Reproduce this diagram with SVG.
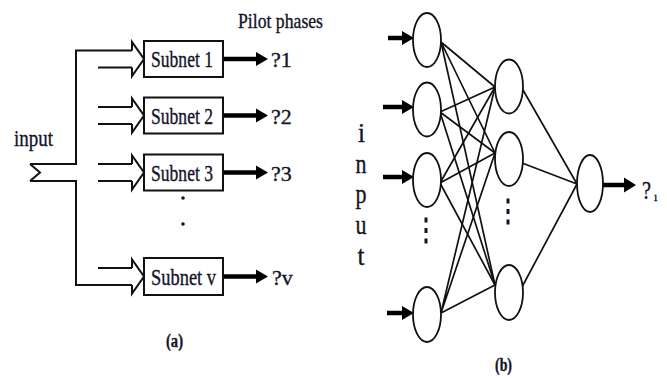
<svg xmlns="http://www.w3.org/2000/svg" width="667" height="378" viewBox="0 0 667 378">
<style>
.ln{fill:none;stroke:#111;stroke-width:2;stroke-linejoin:miter}
.box{fill:#fff;stroke:#111;stroke-width:2}
.thk{fill:none;stroke:#000;stroke-width:4.5}
.hd{fill:#000;stroke:none}
.cn{fill:none;stroke:#111;stroke-width:1.7}
.nd{fill:#fff;stroke:#111;stroke-width:1.8}
.t{font-family:"Liberation Serif","Times New Roman",serif;fill:#141428;stroke:#141428;stroke-width:0.35}
.dot{fill:#141428}
</style>
<rect width="667" height="378" fill="#fff"/>
<!-- (a) -->
<text class="t" x="238" y="28" font-size="22" textLength="85" lengthAdjust="spacingAndGlyphs">Pilot phases</text>
<text class="t" x="14" y="146" font-size="24" textLength="39" lengthAdjust="spacingAndGlyphs">input</text>
<g id="connectors-a">
  <path class="ln" d="M30,164 L40,172.5 L30,181"/>
  <path class="ln" d="M30,164 H76 V50.5 H132"/>
  <path class="ln" d="M30,181 H76 V285 H132"/>
  <path class="ln" d="M98,67.5 H132"/>
  <path class="ln" d="M98,107 H132 M98,124 H132"/>
  <path class="ln" d="M98,164 H132 M98,181 H132"/>
  <path class="ln" d="M98,268 H132"/>
  <path class="ln" d="M132,50.5 V42 L144,59 L132,76 V67.5"/>
  <path class="ln" d="M132,107 V98.5 L144,115.5 L132,132.5 V124"/>
  <path class="ln" d="M132,164 V155.5 L144,172.5 L132,189.5 V181"/>
  <path class="ln" d="M132,268 V259.5 L144,276.5 L132,293.5 V285"/>
  <path class="thk" d="M223,59 H258 M223,115.5 H258 M223,172.5 H258 M223,276.5 H258"/>
  <path class="hd" d="M256,52 L268,59 L256,66 Z M256,108.5 L268,115.5 L256,122.5 Z M256,165.5 L268,172.5 L256,179.5 Z M256,269.5 L268,276.5 L256,283.5 Z"/>
</g>
<g id="subnet1"><rect class="box" x="144" y="41" width="79" height="36"/><text class="t" x="151" y="67" font-size="23" textLength="62" lengthAdjust="spacingAndGlyphs">Subnet 1</text></g>
<g id="subnet2"><rect class="box" x="144" y="97.5" width="79" height="36"/><text class="t" x="151" y="123.5" font-size="23" textLength="62" lengthAdjust="spacingAndGlyphs">Subnet 2</text></g>
<g id="subnet3"><rect class="box" x="144" y="154.5" width="79" height="36"/><text class="t" x="151" y="180.5" font-size="23" textLength="62" lengthAdjust="spacingAndGlyphs">Subnet 3</text></g>
<g id="subnetv"><rect class="box" x="144" y="258" width="79" height="37"/><text class="t" x="151" y="285" font-size="23" textLength="65" lengthAdjust="spacingAndGlyphs">Subnet v</text></g>
<g id="out1"><text class="t" x="271" y="67" font-size="22">?1</text></g>
<g id="out2"><text class="t" x="271" y="123.5" font-size="22">?2</text></g>
<g id="out3"><text class="t" x="271" y="180.5" font-size="22">?3</text></g>
<g id="outv"><text class="t" x="272" y="284.5" font-size="22">?v</text></g>
<circle class="dot" cx="183" cy="198" r="1.8"/>
<circle class="dot" cx="183" cy="224" r="1.8"/>
<text class="t" x="174.5" y="347" font-size="18" font-weight="bold" text-anchor="middle" textLength="17" lengthAdjust="spacingAndGlyphs">(a)</text>
<!-- (b) -->
<g id="input-label">
  <text class="t" x="358" y="142" font-size="27" textLength="7" lengthAdjust="spacingAndGlyphs">i</text>
  <text class="t" x="355.5" y="173" font-size="27" textLength="11" lengthAdjust="spacingAndGlyphs">n</text>
  <text class="t" x="355.5" y="203" font-size="27" textLength="11" lengthAdjust="spacingAndGlyphs">p</text>
  <text class="t" x="355.5" y="234" font-size="27" textLength="11" lengthAdjust="spacingAndGlyphs">u</text>
  <text class="t" x="357.5" y="265" font-size="27" textLength="7" lengthAdjust="spacingAndGlyphs">t</text>
</g>
<g id="connectors-b">
  <path class="cn" d="M441,42 L495,87 M441,42 L495,153 M441,42 L495,285"/>
  <path class="cn" d="M440,112 L495,87 M440,112 L495,153 M440,112 L495,285"/>
  <path class="cn" d="M440,183 L495,87 M440,183 L495,153 M440,183 L495,285"/>
  <path class="cn" d="M441,313 L495,87 M441,313 L495,153 M441,313 L495,285"/>
  <path class="cn" d="M523,90 L577,184 M522,163 L577,184 M522,287 L577,184"/>
  <path class="thk" d="M388,38 H404 M383,107 H404 M383,177 H404 M387,313 H404 M603,185 H627"/>
  <path class="hd" d="M402,31 L414,38 L402,45 Z M402,100 L414,107 L402,114 Z M402,170 L414,177 L402,184 Z M402,306 L414,313 L402,320 Z M624,177.5 L636,185 L624,192.5 Z"/>
</g>
<g id="in1"><ellipse class="nd" cx="427" cy="40" rx="14" ry="27"/></g>
<g id="in2"><ellipse class="nd" cx="427" cy="109.5" rx="14" ry="27"/></g>
<g id="in3"><ellipse class="nd" cx="427" cy="180" rx="14" ry="27"/></g>
<g id="in4"><ellipse class="nd" cx="427" cy="314.5" rx="14" ry="27.5"/></g>
<g id="hid1"><ellipse class="nd" cx="509" cy="86.5" rx="14" ry="27"/></g>
<g id="hid2"><ellipse class="nd" cx="509" cy="159" rx="14" ry="27"/></g>
<g id="hid3"><ellipse class="nd" cx="509" cy="292.5" rx="14" ry="27.5"/></g>
<g id="outnode"><ellipse class="nd" cx="590" cy="183.5" rx="13" ry="28.5"/></g>
<rect class="dot" x="424.5" y="217.5" width="3" height="5"/>
<rect class="dot" x="424.5" y="228" width="3" height="5"/>
<rect class="dot" x="424.5" y="238.5" width="3" height="5"/>
<rect class="dot" x="506.5" y="198.5" width="3" height="5"/>
<rect class="dot" x="506.5" y="209" width="3" height="5"/>
<rect class="dot" x="506.5" y="219.5" width="3" height="5"/>
<g id="out-label"><text class="t" x="642" y="199" font-size="26" textLength="9" lengthAdjust="spacingAndGlyphs">?</text><text class="t" x="654" y="201" font-size="12">ı</text></g>
<text class="t" x="503.5" y="371" font-size="18" font-weight="bold" text-anchor="middle" textLength="17" lengthAdjust="spacingAndGlyphs">(b)</text>
</svg>
